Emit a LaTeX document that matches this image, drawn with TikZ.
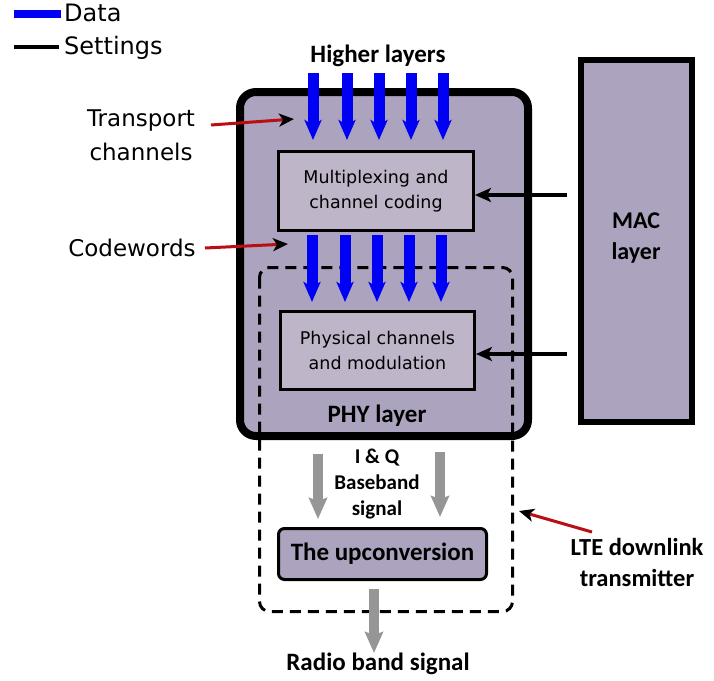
\documentclass[tikz,border=0pt]{standalone}
\usepackage{fontspec}
\setmainfont{DejaVu Sans}
\newfontfamily\carlito{Carlito}
\usetikzlibrary{arrows.meta}
\definecolor{phyfill}{RGB}{172,163,190}
\definecolor{boxfill}{RGB}{191,181,201}
\definecolor{grayarr}{RGB}{150,150,150}
\definecolor{redarr}{RGB}{185,15,20}
\definecolor{databl}{RGB}{0,0,245}
\tikzset{
  lbl/.style={inner sep=0pt, align=center},
  box/.style={draw, line width=3pt, fill=boxfill, inner sep=0pt, align=center},
  databar/.style={draw=databl, line width=11pt, -{Stealth[length=20pt,width=17pt,inset=5pt]}},
  grayarrow/.style={draw=grayarr, line width=10pt, -{Stealth[length=21pt,width=18pt,inset=3pt]}},
  redarrow/.style={draw=redarr, line width=3pt, -{Stealth[length=15pt,width=13pt,inset=4pt,black]}},
  setarrow/.style={draw=black, line width=4pt, -{Stealth[length=16pt,width=14pt,inset=4pt]}},
}
\begin{document}
\begin{tikzpicture}[x=1pt,y=-1pt]
\useasboundingbox (0,0) rectangle (714,680);
\fill[white] (0,0) rectangle (714,680);

% legend
\fill[databl] (14,10) rectangle (61,18);
\node[lbl, anchor=west, font=\fontsize{24}{28}\selectfont] (ldata) at (64,13) {Data};
\draw[line width=4pt] (14,47) -- (59,47);
\node[lbl, anchor=west, font=\fontsize{24}{28}\selectfont] (lset) at (64,48) {Settings};

% PHY layer outer box
\node[draw, line width=8pt, rounded corners=16pt, fill=phyfill, minimum width=288pt, minimum height=344pt, inner sep=0pt] (phy) at (384,264) {};

% MAC
\node[draw, line width=6pt, fill=phyfill, minimum width=111pt, minimum height=362pt, inner sep=0pt] (mac) at (636.5,241) {};
\node[lbl, font=\carlito\bfseries\fontsize{24}{31}\selectfont] (mactxt) at (636,238) {MAC\\layer};

% dashed LTE transmitter box
\draw[line width=3pt, dash pattern=on 11pt off 7pt, rounded corners=10pt] (259.5,267.5) rectangle (512.5,611.5);
\coordinate (dashedge) at (519,511);

% inner boxes
\node[box, minimum width=195pt, minimum height=79pt, font=\fontsize{17.5}{25}\selectfont] (mux) at (376,191) {Multiplexing and\\channel coding};
\node[box, minimum width=194pt, minimum height=78pt, font=\fontsize{17.5}{25}\selectfont] (mod) at (377.5,350.5) {Physical channels\\and modulation};
\node[box, fill=phyfill, rounded corners=6pt, minimum width=208pt, minimum height=51pt, font=\carlito\bfseries\fontsize{25}{30}\selectfont] (up) at (382.5,554) {The upconversion};

% texts
\node[lbl, font=\carlito\bfseries\fontsize{25}{30}\selectfont] (higher) at (378,56) {Higher layers};
\node[lbl, font=\carlito\bfseries\fontsize{25}{30}\selectfont] (phytxt) at (377,416) {PHY layer};
\node[lbl, font=\carlito\bfseries\fontsize{21}{26}\selectfont] (iq) at (377,484) {I \& Q\\Baseband\\signal};
\node[lbl, font=\carlito\bfseries\fontsize{25}{30}\selectfont] (radio) at (378,664) {Radio band signal};
\node[lbl, font=\carlito\bfseries\fontsize{24.5}{31}\selectfont] (lte) at (637,562) {LTE downlink\\transmitter};
\node[lbl, font=\fontsize{23}{34}\selectfont] (transport) at (141,135) {Transport\\channels};
\node[lbl, font=\fontsize{23}{28}\selectfont] (codewords) at (132,248) {Codewords};

% data arrows: higher layers -> multiplexing
\foreach \x [count=\i] in {313,347,379,411,443} {
  \coordinate (ts\i) at (\x,73);
  \coordinate (te\i) at (\x,140);
  \draw[databar] (ts\i) -- (te\i);
}
% data arrows: codewords -> physical channels
\foreach \x [count=\i] in {312,345,377,409,441} {
  \coordinate (cs\i) at (\x,235);
  \coordinate (ce\i) at (\x,302);
  \draw[databar] (cs\i) -- (ce\i);
}

% gray signal arrows
\coordinate (g1s) at (318,454); \coordinate (g1e) at (318,519);
\coordinate (g2s) at (440,452); \coordinate (g2e) at (440,517);
\draw[grayarrow] (g1s) -- (g1e);
\draw[grayarrow] (g2s) -- (g2e);
\coordinate (g3s) at (374,589); \coordinate (g3e) at (374,653);
\draw[grayarrow] (g3s) -- (g3e);

% settings arrows from MAC
\coordinate (m1) at (567,195);
\coordinate (m2) at (567,354);
\draw[setarrow] (m1) -- (mux.east |- m1);
\draw[setarrow] (m2) -- (mod.east |- m2);

% red pointer arrows
\coordinate (tr1) at (211,125); \coordinate (tr2) at (294,119);
\draw[redarrow] (tr1) -- (tr2);
\coordinate (cw1) at (205,248); \coordinate (cw2) at (288,244);
\draw[redarrow] (cw1) -- (cw2);
\coordinate (lt1) at (592,532);
\draw[redarrow] (lt1) -- (dashedge);
\end{tikzpicture}
\end{document}
